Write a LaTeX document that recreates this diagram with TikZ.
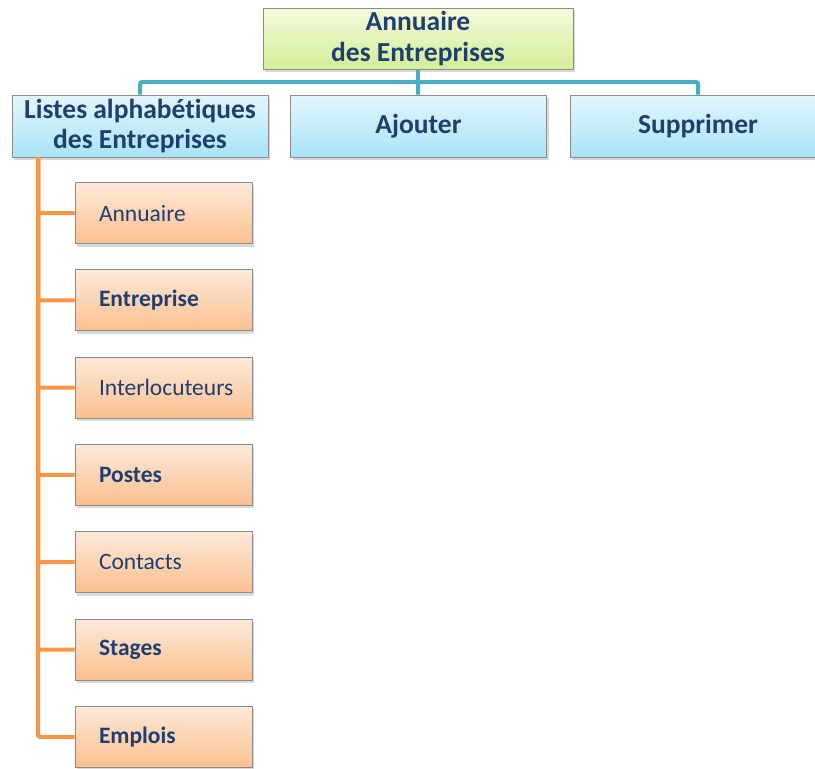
\documentclass[tikz,border=0pt]{standalone}
\usepackage{fontspec}
\setmainfont{Carlito}[Ligatures=NoCommon]
\usetikzlibrary{shadows}
\definecolor{txtblue}{HTML}{1F3F70}
\definecolor{boxgray}{HTML}{8C8C8C}
\definecolor{tealline}{HTML}{4BACC6}
\definecolor{orangeline}{HTML}{F79646}
\definecolor{greentop}{HTML}{F4FADC}
\definecolor{greenbot}{HTML}{D3EE97}
\definecolor{bluetop}{HTML}{E3F6FD}
\definecolor{bluebot}{HTML}{A9E3F7}
\definecolor{orangetop}{HTML}{FDE9DA}
\definecolor{orangebot}{HTML}{FBC08E}

\begin{document}
\begin{tikzpicture}[x=1pt, y=-1pt, node distance=87.3pt,
	box/.style={draw=boxgray, line width=0.8pt, text=txtblue,
		drop shadow={opacity=0.3, shadow xshift=2pt, shadow yshift=-3pt}},
	head/.style={box, minimum width=310pt, minimum height=61pt, align=center,
		top color=greentop, bottom color=greenbot,
		font=\fontsize{27.5}{30.5}\selectfont\bfseries},
	menu/.style={box, minimum width=256pt, minimum height=62pt, align=center,
		top color=bluetop, bottom color=bluebot,
		font=\fontsize{27.5}{30}\selectfont\bfseries},
	kid/.style={box, text width=129pt, inner xsep=24pt, minimum height=61pt, align=left,
		top color=orangetop, bottom color=orangebot,
		font=\fontsize{23.5}{26}\selectfont},
	hv/.style={to path={-| (\tikztotarget)}},
	vh/.style={to path={|- (\tikztotarget)}}]
	\useasboundingbox (0,0) rectangle (815,769);

	\node[head] (0) at (418,38.5) {Annuaire\\des Entreprises};
	\node[menu] (1) at (140,126) {Listes alphabétiques\\des Entreprises};
	\node[menu] (2) at (418.5,126) {Ajouter};
	\node[menu] (3) at (698,126) {Supprimer};

	\node[kid] (c1) at (163.5,213) {Annuaire};
	\node[kid] (c2)[below of = c1] {\textbf{Entreprise}};
	\node[kid] (c3)[below of = c2] {Interlocuteurs};
	\node[kid] (c4)[below of = c3] {\textbf{Postes}};
	\node[kid] (c5)[below of = c4] {Contacts};
	\node[kid] (c6)[below of = c5] {\textbf{Stages}};
	\node[kid] (c7)[below of = c6] {\textbf{Emplois}};

	\coordinate (bar) at (418,82);
	\coordinate (trunk) at (38,157);

	\path[draw=tealline, line width=4pt, rounded corners=2pt]
		(0) edge (bar)
		(bar) edge[hv] (1)
		(bar) edge (2)
		(bar) edge[hv] (3)
	;
	\path[draw=orangeline, line width=4pt, rounded corners=2pt]
		(trunk) edge[vh] (c1)
		(trunk) edge[vh] (c2)
		(trunk) edge[vh] (c3)
		(trunk) edge[vh] (c4)
		(trunk) edge[vh] (c5)
		(trunk) edge[vh] (c6)
		(trunk) edge[vh] (c7)
	;
\end{tikzpicture}
\end{document}
